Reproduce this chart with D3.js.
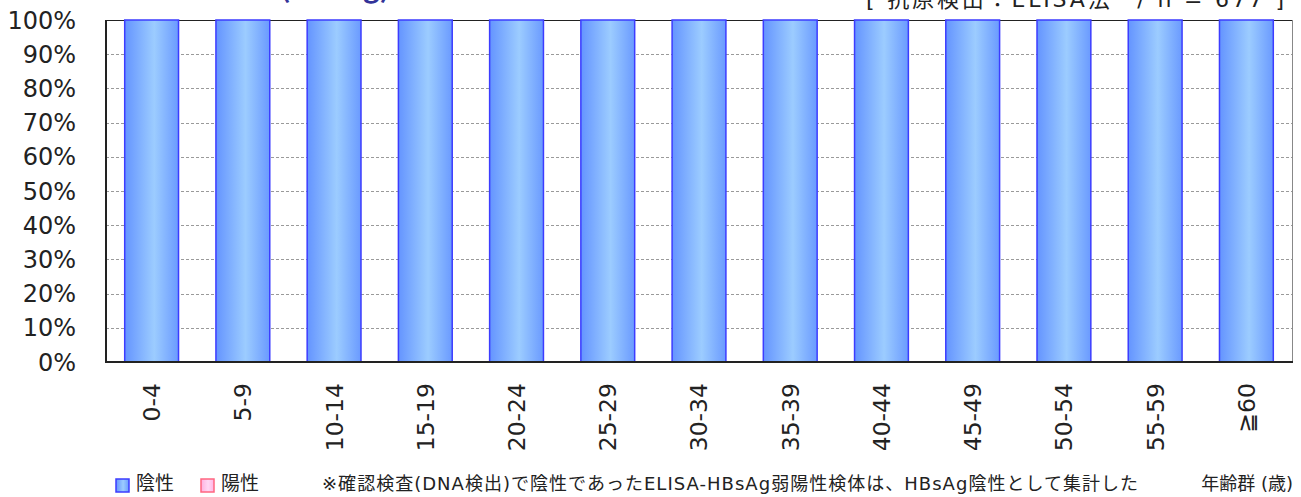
<!DOCTYPE html>
<html>
<head>
<meta charset="utf-8">
<script src="https://cdn.jsdelivr.net/npm/d3@7"></script>
<style>
  html, body { margin: 0; padding: 0; background: #fff; }
  svg { display: block; }
  .lat { font-family: "DejaVu Sans", Verdana, sans-serif; }
  .jp { font-family: "Noto Sans CJK JP", "DejaVu Sans", sans-serif; }
  .mix { font-family: "DejaVu Sans", "Noto Sans CJK JP", sans-serif; }
</style>
</head>
<body>
<svg id="chart" width="1301" height="497"></svg>
<script>
//

const ageGroups = ['0-4', '5-9', '10-14', '15-19', '20-24', '25-29', '30-34',
  '35-39', '40-44', '45-49', '50-54', '55-59', '≧60']
const negative = [100, 100, 100, 100, 100, 100, 100, 100, 100, 100, 100, 100, 100]
const positive = [0, 0, 0, 0, 0, 0, 0, 0, 0, 0, 0, 0, 0]
const yTicks = [0, 10, 20, 30, 40, 50, 60, 70, 80, 90, 100]

//

const svg = d3.select('#chart')
const plotLeft = 106, plotRight = 1292, plotTop = 20, plotBottom = 362

const x = d3.scaleBand()
  .domain(ageGroups)
  .range([plotLeft, plotRight])
  .paddingInner(0.41)
  .paddingOuter(0.205)

const y = d3.scaleLinear()
  .domain([0, 100])
  .range([plotBottom, plotTop])

const defs = svg.append('defs')
const grad = defs.append('linearGradient')
  .attr('id', 'negGrad')
  .attr('x1', '0%').attr('x2', '100%')
grad.append('stop').attr('offset', '0%').attr('stop-color', '#6494ff')
grad.append('stop').attr('offset', '55%').attr('stop-color', '#9cccff')
grad.append('stop').attr('offset', '100%').attr('stop-color', '#6a9aff')

const pgrad = defs.append('linearGradient')
  .attr('id', 'posGrad')
  .attr('x1', '0%').attr('x2', '100%')
pgrad.append('stop').attr('offset', '0%').attr('stop-color', '#ffb0e0')
pgrad.append('stop').attr('offset', '55%').attr('stop-color', '#ffd8f4')
pgrad.append('stop').attr('offset', '100%').attr('stop-color', '#ffb4e4')

// grid
svg.append('g')
  .selectAll('line')
  .data(yTicks.filter(d => d > 0 && d < 100))
  .join('line')
  .attr('x1', plotLeft).attr('x2', plotRight)
  .attr('y1', d => Math.round(y(d)) + 0.5)
  .attr('y2', d => Math.round(y(d)) + 0.5)
  .attr('stroke', '#9a9a9a')
  .attr('stroke-dasharray', '3,2')

// frame
svg.append('line')
  .attr('x1', plotLeft).attr('x2', plotRight)
  .attr('y1', plotTop + 0.5).attr('y2', plotTop + 0.5)
  .attr('stroke', '#222')
svg.append('line')
  .attr('x1', plotRight + 0.5).attr('x2', plotRight + 0.5)
  .attr('y1', plotTop).attr('y2', plotBottom)
  .attr('stroke', '#888')

// bars
const rows = ageGroups.map((g, i) => ({ group: g, neg: negative[i], pos: positive[i] }))
const stack = d3.stack().keys(['neg', 'pos'])(rows)
const fills = { neg: 'url(#negGrad)', pos: 'url(#posGrad)' }
const strokes = { neg: '#3c3cff', pos: '#ff6680' }

svg.append('g')
  .selectAll('g')
  .data(stack)
  .join('g')
  .attr('fill', s => fills[s.key])
  .attr('stroke', s => strokes[s.key])
  .attr('stroke-width', 1.5)
  .selectAll('rect')
  .data(s => s.filter(d => d[1] - d[0] > 0))
  .join('rect')
  .attr('x', d => x(d.data.group))
  .attr('width', x.bandwidth())
  .attr('y', d => y(d[1]))
  .attr('height', d => y(d[0]) - y(d[1]))

// axes lines
svg.append('line')
  .attr('x1', plotLeft).attr('x2', plotLeft)
  .attr('y1', plotTop).attr('y2', plotBottom + 1)
  .attr('stroke', '#222').attr('stroke-width', 2)
svg.append('line')
  .attr('x1', plotLeft).attr('x2', plotRight + 1)
  .attr('y1', plotBottom).attr('y2', plotBottom)
  .attr('stroke', '#222').attr('stroke-width', 2)

// y labels
svg.append('g')
  .attr('class', 'lat')
  .selectAll('text')
  .data(yTicks)
  .join('text')
  .attr('x', 76)
  .attr('y', d => y(d))
  .attr('dy', '0.36em')
  .attr('text-anchor', 'end')
  .attr('font-size', 24)
  .attr('fill', '#222')
  .text(d => d + '%')

// x labels
svg.append('g')
  .attr('class', 'lat')
  .selectAll('text')
  .data(ageGroups)
  .join('text')
  .attr('transform', d => `translate(${x(d) + x.bandwidth() / 2},383) rotate(-90)`)
  .attr('dy', '0.36em')
  .attr('text-anchor', 'end')
  .attr('font-size', 23.5)
  .attr('fill', '#222')
  .text(d => d)

// title (only its lower edge shows at the top of the picture)
svg.append('text')
  .attr('class', 'jp')
  .attr('x', 390).attr('y', -3)
  .attr('text-anchor', 'end')
  .attr('font-size', 28)
  .attr('font-weight', 'bold')
  .attr('fill', '#333399')
  .text('HBs抗原保有状況 (HBsAg)')

svg.append('text')
  .attr('class', 'mix')
  .attr('x', 866).attr('y', 7)
  .attr('font-size', 22)
  .attr('fill', '#222')
  .attr('textLength', 418)
  .attr('lengthAdjust', 'spacing')
  .text('[ 抗原検出：ELISA法　/ n = 677 ]')

// legend
const legend = svg.append('g').attr('class', 'jp')
const legendItems = [
  { label: '陰性', key: 'neg', x: 116 },
  { label: '陽性', key: 'pos', x: 201 }
]
legend.selectAll('rect')
  .data(legendItems)
  .join('rect')
  .attr('x', d => d.x).attr('y', 479)
  .attr('width', 13).attr('height', 13)
  .attr('fill', d => fills[d.key])
  .attr('stroke', d => strokes[d.key])
  .attr('stroke-width', 1.5)
legend.selectAll('text')
  .data(legendItems)
  .join('text')
  .attr('x', d => d.x + 20).attr('y', 490)
  .attr('font-size', 19)
  .attr('fill', '#222')
  .text(d => d.label)

svg.append('text')
  .attr('class', 'mix')
  .attr('x', 322).attr('y', 490)
  .attr('font-size', 18)
  .attr('fill', '#222')
  .attr('textLength', 816)
  .attr('lengthAdjust', 'spacing')
  .text('※確認検査(DNA検出)で陰性であったELISA-HBsAg弱陽性検体は、HBsAg陰性として集計した')

svg.append('text')
  .attr('class', 'mix')
  .attr('x', 1293).attr('y', 490)
  .attr('text-anchor', 'end')
  .attr('font-size', 18)
  .attr('fill', '#222')
  .text('年齢群 (歳)')
</script>
</body>
</html>
